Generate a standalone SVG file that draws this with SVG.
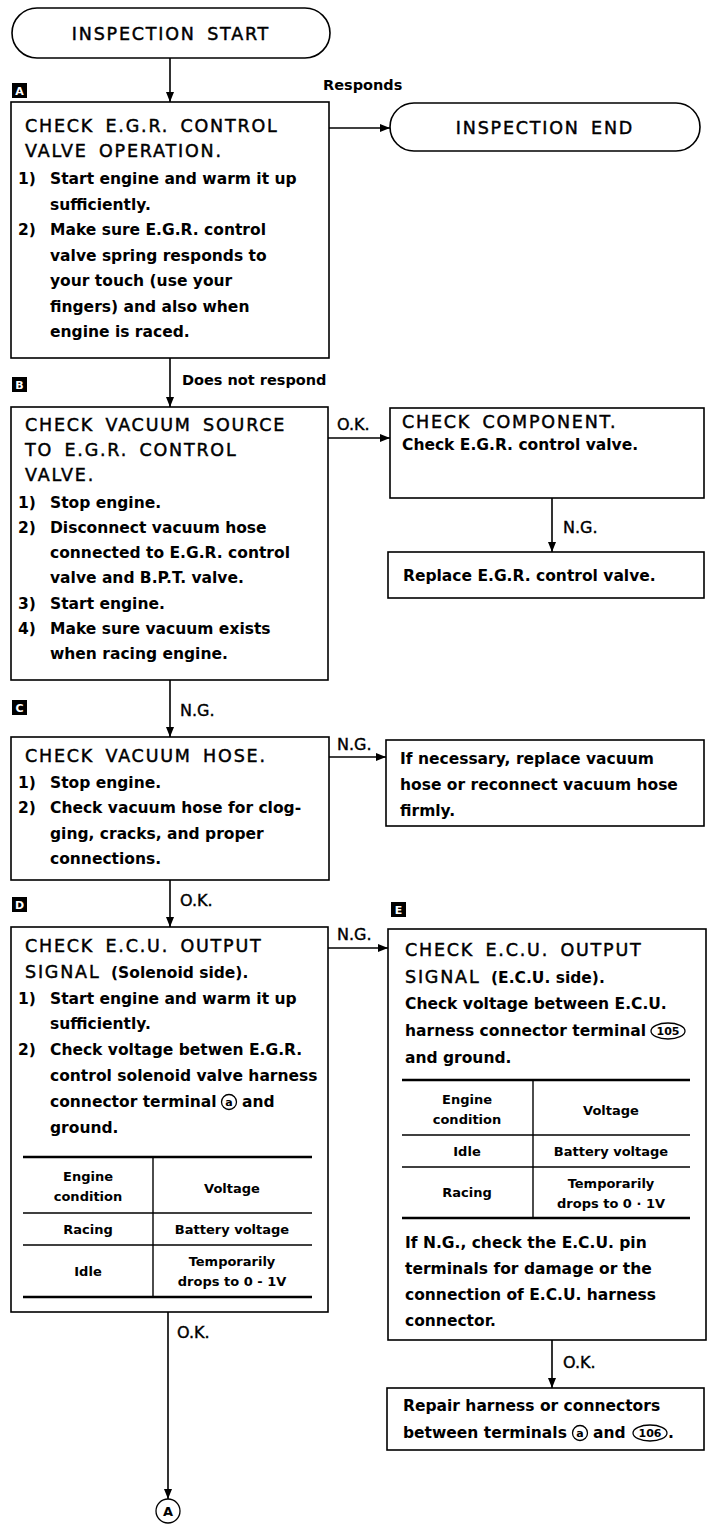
<svg xmlns="http://www.w3.org/2000/svg" width="712" height="1533" viewBox="0 0 712 1533">
<style>
.bg{fill:#fff}
.box{fill:#fff;stroke:#000;stroke-width:1.6}
.term{fill:#fff;stroke:#000;stroke-width:1.6}
.t{font-family:"DejaVu Sans",sans-serif;font-size:17.5px;letter-spacing:1.8px;word-spacing:4px;fill:#000;stroke:#000;stroke-width:0.45}
.b{font-family:"DejaVu Sans",sans-serif;font-weight:bold;font-size:15.5px;fill:#000}
.s{font-family:"DejaVu Sans",sans-serif;font-weight:bold;font-size:13px;fill:#000;text-anchor:middle}
.e{font-family:"DejaVu Sans",sans-serif;font-weight:bold;font-size:14.5px;fill:#000}
.k{font-family:"DejaVu Sans",sans-serif;font-size:16px;fill:#000;stroke:#000;stroke-width:0.4}
.tag{fill:#000}
.tagt{font-family:"DejaVu Sans",sans-serif;font-weight:bold;font-size:11px;fill:#fff;text-anchor:middle}
.c{fill:none;stroke:#000;stroke-width:1.6}
.tl{stroke:#000;stroke-width:1.4}
.tk{stroke:#000;stroke-width:2.6}
.ct{font-family:"DejaVu Sans",sans-serif;font-weight:bold;font-size:11px;fill:#000;text-anchor:middle}
.cir{fill:#fff;stroke:#000;stroke-width:1.3}
</style>
<defs>
<marker id="ah" markerWidth="10" markerHeight="8" refX="10" refY="4" orient="auto" markerUnits="userSpaceOnUse"><path d="M0,0 L10,4 L0,8 z" fill="#000"/></marker>
</defs>
<rect class="bg" x="0" y="0" width="712" height="1533"/>

<g id="connectors">
<path class="c" d="M170,58 V102" marker-end="url(#ah)"/>
<path class="c" d="M329,128 H390" marker-end="url(#ah)"/>
<path class="c" d="M170,358 V407" marker-end="url(#ah)"/>
<path class="c" d="M328,438 H390" marker-end="url(#ah)"/>
<path class="c" d="M552,498 V552" marker-end="url(#ah)"/>
<path class="c" d="M170,680 V737" marker-end="url(#ah)"/>
<path class="c" d="M329,757 H386" marker-end="url(#ah)"/>
<path class="c" d="M170,880 V927" marker-end="url(#ah)"/>
<path class="c" d="M328,948 H388" marker-end="url(#ah)"/>
<path class="c" d="M552,1340 V1388" marker-end="url(#ah)"/>
<path class="c" d="M168,1312 V1499" marker-end="url(#ah)"/>
<text class="e" x="323" y="90">Responds</text>
<text class="e" x="182" y="385">Does not respond</text>
<text class="k" x="337" y="430">O.K.</text>
<text class="k" x="563" y="533">N.G.</text>
<text class="k" x="180" y="716">N.G.</text>
<text class="k" x="337" y="750">N.G.</text>
<text class="k" x="180" y="906">O.K.</text>
<text class="k" x="337" y="940">N.G.</text>
<text class="k" x="563" y="1368">O.K.</text>
<text class="k" x="177" y="1338">O.K.</text>
</g>

<g id="start">
<rect class="term" x="12" y="8" width="318" height="50" rx="25"/>
<text class="t" x="171" y="40" text-anchor="middle">INSPECTION START</text>
</g>

<g id="end">
<rect class="term" x="390" y="103" width="310" height="48" rx="24"/>
<text class="t" x="545" y="134" text-anchor="middle">INSPECTION END</text>
</g>

<g id="nodeA">
<rect class="tag" x="12" y="83" width="15" height="15"/>
<text class="tagt" x="19.5" y="95">A</text>
<rect class="box" x="11" y="102" width="318" height="256"/>
<text class="t" x="25" y="132">CHECK E.G.R. CONTROL</text>
<text class="t" x="25" y="157">VALVE OPERATION.</text>
<text class="b" x="18" y="184">1)</text>
<text class="b" x="50" y="184">Start engine and warm it up</text>
<text class="b" x="50" y="210">sufficiently.</text>
<text class="b" x="18" y="235">2)</text>
<text class="b" x="50" y="235">Make sure E.G.R. control</text>
<text class="b" x="50" y="261">valve spring responds to</text>
<text class="b" x="50" y="286">your touch (use your</text>
<text class="b" x="50" y="312">fingers) and also when</text>
<text class="b" x="50" y="337">engine is raced.</text>
</g>

<g id="nodeB">
<rect class="tag" x="12" y="377" width="15" height="15"/>
<text class="tagt" x="19.5" y="389">B</text>
<rect class="box" x="11" y="407" width="317" height="273"/>
<text class="t" x="25" y="431">CHECK VACUUM SOURCE</text>
<text class="t" x="25" y="456">TO E.G.R. CONTROL</text>
<text class="t" x="25" y="481">VALVE.</text>
<text class="b" x="18" y="508">1)</text>
<text class="b" x="50" y="508">Stop engine.</text>
<text class="b" x="18" y="533">2)</text>
<text class="b" x="50" y="533">Disconnect vacuum hose</text>
<text class="b" x="50" y="558">connected to E.G.R. control</text>
<text class="b" x="50" y="583">valve and B.P.T. valve.</text>
<text class="b" x="18" y="609">3)</text>
<text class="b" x="50" y="609">Start engine.</text>
<text class="b" x="18" y="634">4)</text>
<text class="b" x="50" y="634">Make sure vacuum exists</text>
<text class="b" x="50" y="659">when racing engine.</text>
</g>

<g id="nodeComponent">
<rect class="box" x="390" y="408" width="314" height="90"/>
<text class="t" x="402" y="428">CHECK COMPONENT.</text>
<text class="b" x="402" y="450">Check E.G.R. control valve.</text>
</g>

<g id="nodeReplace">
<rect class="box" x="388" y="552" width="316" height="46"/>
<text class="b" x="403" y="581">Replace E.G.R. control valve.</text>
</g>

<g id="nodeC">
<rect class="tag" x="12" y="700" width="15" height="15"/>
<text class="tagt" x="19.5" y="712">C</text>
<rect class="box" x="11" y="737" width="318" height="143"/>
<text class="t" x="25" y="762">CHECK VACUUM HOSE.</text>
<text class="b" x="18" y="788">1)</text>
<text class="b" x="50" y="788">Stop engine.</text>
<text class="b" x="18" y="813">2)</text>
<text class="b" x="50" y="813">Check vacuum hose for clog-</text>
<text class="b" x="50" y="839">ging, cracks, and proper</text>
<text class="b" x="50" y="864">connections.</text>
</g>

<g id="nodeHoseFix">
<rect class="box" x="386" y="740" width="318" height="86"/>
<text class="b" x="400" y="764">If necessary, replace vacuum</text>
<text class="b" x="400" y="790">hose or reconnect vacuum hose</text>
<text class="b" x="400" y="816">firmly.</text>
</g>

<g id="nodeD">
<rect class="tag" x="12" y="897" width="15" height="15"/>
<text class="tagt" x="19.5" y="909">D</text>
<rect class="box" x="11" y="927" width="317" height="385"/>
<text class="t" x="25" y="952">CHECK E.C.U. OUTPUT</text>
<text class="t" x="25" y="978">SIGNAL</text>
<text class="b" x="111" y="978">(Solenoid side).</text>
<text class="b" x="18" y="1004">1)</text>
<text class="b" x="50" y="1004">Start engine and warm it up</text>
<text class="b" x="50" y="1029">sufficiently.</text>
<text class="b" x="18" y="1055">2)</text>
<text class="b" x="50" y="1055">Check voltage betwen E.G.R.</text>
<text class="b" x="50" y="1081">control solenoid valve harness</text>
<text class="b" x="50" y="1107">connector terminal</text>
<circle class="cir" cx="229" cy="1102" r="7.5"/>
<text class="ct" x="229" y="1106">a</text>
<text class="b" x="242" y="1107">and</text>
<text class="b" x="50" y="1133">ground.</text>
<line class="tk" x1="23" y1="1157" x2="312" y2="1157"/>
<line class="tl" x1="23" y1="1213" x2="312" y2="1213"/>
<line class="tl" x1="23" y1="1245" x2="312" y2="1245"/>
<line class="tk" x1="23" y1="1297" x2="312" y2="1297"/>
<line class="tl" x1="153" y1="1157" x2="153" y2="1297"/>
<text class="s" x="88" y="1181">Engine</text>
<text class="s" x="88" y="1201">condition</text>
<text class="s" x="232" y="1193">Voltage</text>
<text class="s" x="88" y="1234">Racing</text>
<text class="s" x="232" y="1234">Battery voltage</text>
<text class="s" x="88" y="1276">Idle</text>
<text class="s" x="232" y="1266">Temporarily</text>
<text class="s" x="232" y="1286">drops to 0 - 1V</text>
</g>

<g id="nodeE">
<rect class="tag" x="391" y="902" width="15" height="15"/>
<text class="tagt" x="398.5" y="914">E</text>
<rect class="box" x="388" y="929" width="318" height="411"/>
<text class="t" x="405" y="956">CHECK E.C.U. OUTPUT</text>
<text class="t" x="405" y="983">SIGNAL</text>
<text class="b" x="491" y="983">(E.C.U. side).</text>
<text class="b" x="405" y="1009">Check voltage between E.C.U.</text>
<text class="b" x="405" y="1036">harness connector terminal</text>
<ellipse class="cir" cx="668" cy="1031" rx="17" ry="8"/>
<text class="ct" x="668" y="1035">105</text>
<text class="b" x="405" y="1063">and ground.</text>
<line class="tk" x1="402" y1="1080" x2="690" y2="1080"/>
<line class="tl" x1="402" y1="1135" x2="690" y2="1135"/>
<line class="tl" x1="402" y1="1167" x2="690" y2="1167"/>
<line class="tk" x1="402" y1="1218" x2="690" y2="1218"/>
<line class="tl" x1="533" y1="1080" x2="533" y2="1218"/>
<text class="s" x="467" y="1104">Engine</text>
<text class="s" x="467" y="1124">condition</text>
<text class="s" x="611" y="1115">Voltage</text>
<text class="s" x="467" y="1156">Idle</text>
<text class="s" x="611" y="1156">Battery voltage</text>
<text class="s" x="467" y="1197">Racing</text>
<text class="s" x="611" y="1188">Temporarily</text>
<text class="s" x="611" y="1208">drops to 0 · 1V</text>
<text class="b" x="405" y="1248">If N.G., check the E.C.U. pin</text>
<text class="b" x="405" y="1274">terminals for damage or the</text>
<text class="b" x="405" y="1300">connection of E.C.U. harness</text>
<text class="b" x="405" y="1326">connector.</text>
</g>

<g id="nodeRepair">
<rect class="box" x="387" y="1388" width="317" height="62"/>
<text class="b" x="403" y="1411">Repair harness or connectors</text>
<text class="b" x="403" y="1438">between terminals</text>
<circle class="cir" cx="580" cy="1433" r="7.5"/>
<text class="ct" x="580" y="1437">a</text>
<text class="b" x="593" y="1438">and</text>
<ellipse class="cir" cx="650" cy="1433" rx="17" ry="8"/>
<text class="ct" x="650" y="1437">106</text>
<text class="b" x="668" y="1438">.</text>
</g>

<g id="connectorA">
<circle class="cir" cx="168" cy="1511" r="12" stroke-width="1.6"/>
<text class="s" x="168" y="1516">A</text>
</g>
</svg>
